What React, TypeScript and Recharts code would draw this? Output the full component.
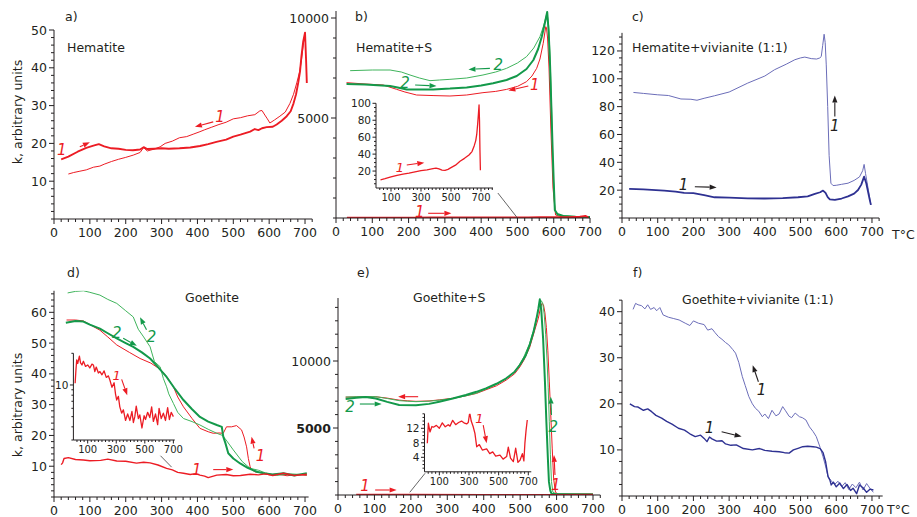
import React from 'react';
import { LineChart, Line, XAxis, YAxis, ReferenceLine, ReferenceDot } from 'recharts';

const W = 917;
const H = 517;
const FONT = '"DejaVu Sans", Verdana, sans-serif';
const AX = '#231f20';
const RED = '#ec1c24';
const GREEN = '#13994a';
const GREEN_L = '#40b45c';
const NAVY = '#2e3192';
const BLUE_L = '#6b6db8';
const BLACK = '#231f20';

// ---------- tick labels ----------
const xLabelsMain = [0, 100, 200, 300, 400, 500, 600, 700];
const xLabelsInset = [100, 300, 500, 700];
const yLabelsA = [10, 20, 30, 40, 50];
const yLabelsB = [5000, 10000];
const yLabelsC = [20, 40, 60, 80, 100, 120];
const yLabelsD = [10, 20, 30, 40, 50, 60];
const yLabelsE = [5000, 10000];
const yLabelsF = [10, 20, 30, 40];
const yLabelsInB = [20, 40, 60, 80, 100];
const yLabelsInD = [10];
const yTicksInD = [3, 4, 5, 6, 7, 8, 9, 10, 20];
const yLabelsInE = [4, 8, 12];

// ---------- a) Hematite ----------
const aHeatT = [20, 40, 66, 90, 110, 125, 140, 160, 180, 200, 220, 240, 250, 260, 280, 300, 320, 350, 380, 407, 430, 453, 480, 500, 520, 547, 560, 570, 580, 593, 610, 621, 635, 649, 660, 668, 675, 681, 686, 690, 695, 700, 703, 705];
const aHeatK = [15.8, 16.5, 17.8, 18.8, 19.4, 19.8, 19.2, 18.7, 18.6, 18.3, 18.2, 18.4, 19.0, 18.5, 18.6, 18.7, 18.6, 18.7, 18.9, 19.3, 19.8, 20.4, 21.0, 21.8, 22.3, 23.1, 23.8, 23.5, 24.0, 24.3, 24.4, 25.0, 26.0, 27.2, 28.5, 30.6, 33.0, 36.0, 39.0, 43.0, 47.0, 49.3, 42, 36];
const aCoolT = [700, 695, 690, 685, 677, 668, 658, 645, 630, 615, 602, 595, 588, 580, 574, 560, 540, 520, 500, 480, 460, 440, 420, 407, 390, 370, 350, 330, 310, 296, 280, 260, 250, 240, 221, 200, 180, 160, 140, 128, 110, 90, 70, 55, 40];
const aCoolK = [49.3, 46, 42, 39, 36, 33, 30.6, 28.3, 27.2, 26.2, 25.4, 26.5, 27.5, 28.7, 28.6, 27.6, 27.3, 26.8, 26.5, 25.6, 25.0, 24.3, 23.6, 23.1, 22.5, 21.8, 21.5, 20.6, 20.0, 19.1, 18.5, 18.0, 18.9, 17.6, 16.9, 16.3, 15.8, 15.2, 14.5, 14.0, 13.7, 13.0, 12.6, 12.3, 11.9];

// ---------- b) Hematite+S ----------
const bInT = [30, 60, 100, 140, 180, 220, 260, 300, 340, 380, 400, 420, 440, 460, 480, 500, 530, 560, 590, 620, 640, 655, 665, 672, 678, 683, 687, 690, 693, 696];
const bInK = [9.7, 11, 13, 15, 16.5, 17.5, 19, 20.5, 21.5, 23, 23.5, 22.5, 21.2, 20.8, 22, 24, 27, 31.5, 35, 39, 43, 50, 56, 64, 76, 88, 98, 80, 45, 21];
const bCool1T = [700, 660, 620, 605, 598, 592, 587, 583, 580, 578, 571, 562, 553, 540, 525, 500, 470, 440, 405, 360, 314, 270, 222, 190, 167, 130, 80, 29];
const bCool1K = [30, 40, 70, 150, 1500, 4500, 7500, 9000, 9500, 9567, 8733, 7950, 7483, 7100, 6817, 6580, 6430, 6330, 6267, 6150, 6100, 6120, 6150, 6300, 6433, 6650, 6700, 6767];
const bHeat2T = [29, 80, 149, 170, 195, 230, 268, 314, 360, 400, 433, 470, 498, 525, 544, 557, 567, 575, 582, 586, 590, 594, 597, 600, 603, 610, 626, 660, 700];
const bHeat2K = [6700, 6680, 6600, 6520, 6430, 6420, 6430, 6470, 6530, 6620, 6733, 6900, 7100, 7450, 7900, 8450, 9067, 9700, 10300, 9300, 7567, 5200, 3400, 1800, 400, 200, 100, 60, 50];
const bCool2T = [700, 650, 610, 603, 598, 594, 590, 586, 582, 580, 572, 562, 545, 525, 500, 470, 440, 405, 360, 314, 285, 259, 230, 204, 180, 149, 100, 39];
const bCool2K = [60, 80, 150, 400, 2500, 5500, 8000, 9600, 10200, 10150, 9600, 9067, 8500, 8067, 7750, 7483, 7300, 7150, 7000, 6933, 6900, 6867, 7000, 7150, 7300, 7400, 7400, 7367];

// ---------- c) Hematite+vivianite ----------
const cHeatT = [20, 60, 118, 150, 174, 200, 230, 259, 300, 352, 400, 450, 493, 520, 540, 555, 563, 570, 576, 582, 596, 615, 633, 650, 661, 670, 678, 684, 688, 693, 697];
const cHeatK = [20.9, 20.5, 19.7, 19.0, 18.0, 17.8, 16.4, 14.9, 14.6, 14.1, 14.0, 14.3, 14.9, 15.5, 17.3, 18.5, 19.7, 18.0, 15.0, 13.4, 13.0, 14.0, 15.5, 17.5, 20.1, 24.0, 29.7, 25, 20, 14, 9.4];
const cCoolT = [697, 690, 682, 678, 674, 665, 650, 633, 615, 600, 591, 585, 580, 576, 572, 569, 566, 562, 558, 554, 545, 530, 512, 500, 484, 460, 427, 400, 352, 300, 259, 230, 210, 193, 165, 130, 100, 60, 32];
const cCoolK = [9.4, 20, 32, 38.5, 34, 29.5, 27, 25, 24.2, 23.5, 23.3, 25, 45, 80, 110, 126, 132, 124, 116, 115, 114.2, 114.5, 115.6, 115, 113.7, 110.5, 106.5, 102, 96.9, 90.5, 87.8, 86, 84.6, 85.3, 85.5, 88, 88.5, 89.5, 90.2];

// ---------- d) Goethite ----------
const dHeat1T = [20, 24, 28, 40, 60, 82, 100, 130, 150, 175, 200, 230, 250, 268, 290, 314, 330, 345, 361, 380, 395, 407, 420, 430, 454, 480, 500, 520, 547, 570, 590, 610, 640, 670, 705];
const dHeat1K = [10.5, 11.1, 12.5, 12.8, 12.2, 12.0, 11.8, 11.9, 12.3, 11.7, 11.6, 11.0, 11.3, 11.1, 10.4, 9.3, 8.8, 8.0, 7.7, 7.3, 7.6, 7.1, 6.8, 6.3, 7.1, 7.3, 6.9, 7.0, 7.4, 7.2, 7.5, 7.0, 7.7, 7.0, 7.4];
const dCool1T = [705, 680, 650, 620, 600, 580, 560, 550, 547, 542, 537, 530, 523, 509, 495, 481, 472, 460, 444, 430, 407, 385, 361, 345, 333, 315, 296, 270, 240, 210, 175, 150, 128, 100, 82, 60, 35];
const dCool1K = [7.0, 7.3, 6.9, 7.5, 7.2, 7.8, 8.2, 9.0, 9.8, 12.5, 16.3, 19.5, 21.8, 23.2, 22.8, 22.8, 20.7, 20.8, 20.7, 21.2, 22.3, 25.5, 29.3, 32.5, 35.8, 39.0, 41.5, 43.5, 45.0, 47.0, 49.4, 52.0, 54.2, 56.0, 57.2, 57.5, 57.5];
const dHeat2T = [33, 60, 82, 100, 128, 150, 175, 200, 221, 245, 268, 290, 314, 335, 361, 385, 407, 430, 454, 468, 472, 478, 486, 500, 519, 540, 565, 590, 610, 640, 670, 705];
const dHeat2K = [56.6, 57.2, 57.0, 56.0, 54.7, 53.2, 51.5, 50.0, 48.8, 47.0, 45.0, 42.2, 39.0, 35.5, 31.5, 28.5, 26.0, 24.5, 23.4, 22.8, 19.6, 17.5, 14.2, 12.5, 10.9, 9.5, 8.2, 7.6, 7.3, 7.7, 7.0, 7.7];
const dCool2T = [705, 660, 620, 590, 570, 547, 525, 500, 480, 470, 454, 430, 407, 385, 361, 345, 333, 320, 314, 305, 296, 280, 268, 250, 235, 221, 200, 175, 150, 128, 100, 82, 60, 38];
const dCool2K = [7.2, 7.5, 7.0, 7.8, 8.7, 9.3, 11.5, 15.3, 18.5, 20.0, 20.7, 22.0, 23.4, 24.5, 25.5, 27.5, 30.4, 33.5, 35.8, 38.5, 42.3, 44.0, 48.8, 52.0, 54.5, 58.5, 60.5, 62.9, 64.2, 65.6, 66.5, 67.0, 66.8, 66.3];
const dInT = [12, 18, 23, 30, 42, 50, 60, 70, 85, 100, 115, 130, 140, 150, 160, 175, 186, 200, 215, 230, 245, 256, 270, 285, 295, 303, 315, 325, 338, 350, 365, 380, 396, 410, 420, 430, 440, 455, 465, 480, 495, 505, 520, 535, 548, 560, 575, 590, 600, 615, 630, 645, 660, 672, 685, 700];
const dInK = [10.4, 14, 17.3, 16, 18.8, 16.2, 15.5, 16.8, 15.0, 15.5, 14.5, 15.8, 15.5, 13.4, 14.8, 13.0, 13.4, 12.5, 13.6, 11.8, 12.2, 11.1, 9.5, 10.5, 8.2, 7.2, 7.8, 6.2, 5.4, 5.8, 4.6, 5.3, 4.6, 5.6, 4.4, 5.0, 6.3, 4.8, 5.2, 3.9, 5.1, 4.7, 5.5, 4.9, 6.2, 4.5, 5.3, 4.2, 6.0, 4.8, 5.4, 4.6, 6.1, 4.7, 5.5, 5.0];

// ---------- e) Goethite+S ----------
const eInT = [19, 26, 37, 50, 60, 80, 100, 120, 140, 160, 172, 190, 210, 230, 250, 270, 284, 295, 305, 315, 328, 340, 352, 370, 390, 419, 440, 460, 480, 509, 530, 554, 565, 580, 599, 615, 630, 644, 660, 670, 677, 685, 693];
const eInK = [7.9, 13.4, 11, 12.5, 12.3, 12.8, 12.0, 13.5, 12.4, 13.0, 12.6, 14.2, 13.0, 13.6, 14.0, 13.4, 13.2, 13.6, 16.3, 14.0, 12.5, 10.6, 6.9, 7.5, 6.0, 6.3, 5.0, 5.5, 4.3, 4.6, 3.5, 4.2, 6.8, 3.8, 2.8, 6.5, 2.6, 3.2, 5.0, 3.0, 7.9, 11.5, 14.3];
const eMainHeat1T = [50, 200, 400, 600, 700];
const eMainHeat1K = [12, 13, 6, 3, 14];
const eHeat2T = [21, 50, 76, 104, 135, 168, 214, 250, 278, 315, 351, 380, 406, 435, 462, 485, 499, 515, 526, 537, 545, 550, 554, 558, 563, 568, 572, 576, 579, 583, 586, 600, 650, 700];
const eHeat2K = [7164, 7250, 7313, 7200, 6950, 6716, 6700, 6800, 6965, 7200, 7463, 7700, 7960, 8300, 8706, 9200, 9701, 10400, 11194, 12200, 13184, 13900, 14600, 13800, 11692, 8500, 5473, 2800, 995, 300, 100, 50, 50, 50];
const eCool2T = [700, 650, 600, 590, 586, 583, 580, 577, 574, 570, 566, 562, 558, 554, 548, 540, 526, 510, 499, 485, 462, 435, 406, 380, 351, 315, 278, 250, 214, 190, 168, 135, 104, 76, 50, 21];
const eCool2K = [50, 60, 80, 200, 1000, 3000, 5500, 8000, 10000, 12000, 13500, 14300, 14500, 14300, 13500, 12600, 11300, 10300, 9750, 9200, 8700, 8250, 7900, 7600, 7400, 7200, 7080, 7000, 6965, 7000, 7040, 7200, 7338, 7340, 7330, 7313];
const eCool1T = [700, 650, 605, 597, 592, 588, 584, 580, 576, 572, 568, 564, 560, 556, 550, 540, 526, 510, 499, 485, 462, 435, 406, 380, 351, 315, 278, 250, 214, 190, 168, 135, 104, 76, 50, 21];
const eCool1K = [40, 50, 70, 200, 1200, 3500, 6000, 8500, 10800, 12500, 13600, 14200, 14300, 14000, 13200, 12300, 11000, 10050, 9550, 9050, 8580, 8150, 7850, 7580, 7400, 7220, 7100, 7020, 6990, 7030, 7080, 7230, 7330, 7330, 7320, 7300];

// ---------- f) Goethite+vivianite ----------
const fHeatT = [22, 35, 45, 60, 72, 83, 95, 111, 125, 140, 158, 175, 190, 205, 220, 230, 238, 245, 252, 265, 280, 290, 305, 320, 340, 365, 385, 400, 420, 440, 455, 468, 480, 495, 506, 520, 535, 544, 555, 563, 570, 577, 582, 586, 592, 600, 610, 620, 630, 640, 647, 657, 665, 675, 685, 695, 704];
const fHeatK = [20, 19.4, 19.3, 18.6, 18.9, 18.3, 17.5, 16.9, 16.2, 15.6, 14.7, 14.3, 13.5, 12.9, 13.2, 12.5, 11.8, 12.8, 12.4, 11.9, 12.0, 11.3, 11.0, 11.1, 10.3, 10.0, 10.3, 9.9, 9.7, 9.6, 9.4, 9.3, 10.0, 10.4, 10.7, 10.8, 10.7, 10.6, 10.3, 9.4, 7.5, 4.2, 3.5, 2.4, 3.0, 2.0, 2.8, 1.6, 2.5, 1.2, 1.7, 0.5, 2.4, 1.8, 0.8, 1.5, 1.3];
const fCoolT = [704, 695, 685, 675, 665, 655, 645, 635, 625, 615, 605, 595, 591, 584, 577, 570, 563, 555, 544, 535, 525, 515, 505, 497, 485, 475, 468, 458, 450, 440, 431, 420, 410, 400, 393, 383, 374, 365, 355, 345, 337, 327, 318, 310, 299, 290, 280, 270, 260, 252, 240, 230, 214, 200, 190, 177, 160, 145, 130, 115, 106, 97, 90, 80, 72, 64, 55, 45, 38, 31];
const fCoolK = [0.8, 1.6, 2.7, 1.3, 3.0, 1.8, 2.6, 1.4, 2.9, 2.0, 3.2, 2.5, 2.8, 3.5, 4.2, 6.5, 8.5, 10.5, 12.9, 14.0, 15.0, 16.5, 17.0, 17.2, 18.0, 17.0, 17.3, 18.5, 19.4, 17.8, 17.4, 18.6, 16.8, 17.8, 17.2, 18.4, 19.0, 20.0, 21.6, 24.0, 25.9, 29.0, 31.0, 31.8, 32.8, 33.3, 34.0, 34.6, 35.5, 36.3, 36.0, 37.2, 37.5, 38.0, 37.0, 37.5, 38.2, 38.5, 38.8, 39.3, 40.9, 40.2, 40.9, 40.5, 41.5, 40.6, 41.3, 41.5, 41.8, 40.5];

// ---------- helpers ----------
type Pt = { t: number; k: number };
const zip = (t: number[], k: number[]): Pt[] => t.map((v, i) => ({ t: v, k: k[i] }));
const steps = (a: number, b: number, s: number) => {
  const out: number[] = [];
  for (let v = a; v <= b + 1e-9; v += s) out.push(Math.round(v * 1000) / 1000);
  return out;
};

type Note =
  | { type: 'text'; t: number; k: number; s: string; color: string; size?: number }
  | { type: 'arrow'; t1: number; k1: number; t2: number; k2: number; color: string }
  | { type: 'seg'; t1: number; k1: number; t2: number; k2: number; color: string };

interface Cfg {
  box: { x0: number; x1: number; yTop: number; yBottom: number };
  xDomain: [number, number];
  yDomain: [number, number];
  xTicks: number[];
  xLabels: number[];
  yTicks: number[];
  yLabels: number[];
  yBold?: number[];
  log?: boolean;
  fs: number;
  yfs: number;
  xOff: number;
  yGap: number;
  major: number;
  minor: number;
  series: { data: Pt[]; color: string; width: number }[];
  notes: Note[];
}

const arrowShape = (color: string) => (p: any) => {
  const { x1, y1, x2, y2 } = p;
  const dx = x2 - x1;
  const dy = y2 - y1;
  const len = Math.hypot(dx, dy) || 1;
  const ux = dx / len;
  const uy = dy / len;
  const hl = 7;
  const hw = 2.6;
  const bx = x2 - ux * hl;
  const by = y2 - uy * hl;
  const px = -uy;
  const py = ux;
  return (
    <g>
      <line x1={x1} y1={y1} x2={bx} y2={by} stroke={color} strokeWidth={1.1} />
      <polygon points={`${x2},${y2} ${bx + px * hw},${by + py * hw} ${bx - px * hw},${by - py * hw}`} fill={color} />
    </g>
  );
};

function renderNote(n: Note, i: number) {
  if (n.type === 'text') {
    return (
      <ReferenceDot
        key={'n' + i}
        x={n.t}
        y={n.k}
        r={1}
        ifOverflow="visible"
        shape={(p: any) => (
          <text x={p.cx} y={p.cy} textAnchor="middle" dominantBaseline="central" fontStyle="italic" fontSize={n.size || 15} fill={n.color} fontFamily={FONT}>
            {n.s}
          </text>
        )}
      />
    );
  }
  if (n.type === 'arrow') {
    return (
      <ReferenceLine
        key={'n' + i}
        ifOverflow="visible"
        segment={[{ x: n.t1, y: n.k1 }, { x: n.t2, y: n.k2 }]}
        shape={arrowShape(n.color)}
      />
    );
  }
  return (
    <ReferenceLine
      key={'n' + i}
      ifOverflow="visible"
      segment={[{ x: n.t1, y: n.k1 }, { x: n.t2, y: n.k2 }]}
      stroke={n.color}
      strokeWidth={0.9}
    />
  );
}

function Panel({ cfg }: { cfg: Cfg }) {
  const { box } = cfg;
  const xTick = (p: any) => {
    const v = p.payload.value;
    const isMajor = cfg.xLabels.includes(v);
    return (
      <g>
        <line x1={p.x} y1={p.y} x2={p.x} y2={p.y + (isMajor ? cfg.major : cfg.minor)} stroke={AX} strokeWidth={1} />
        {isMajor && (
          <text x={p.x} y={p.y + cfg.xOff} textAnchor="middle" fontSize={cfg.fs} fill={AX} fontFamily={FONT}>
            {v}
          </text>
        )}
      </g>
    );
  };
  const yTick = (p: any) => {
    const v = p.payload.value;
    const isMajor = cfg.yLabels.includes(v);
    const bold = cfg.yBold ? cfg.yBold.includes(v) : false;
    return (
      <g>
        <line x1={p.x} y1={p.y} x2={p.x - (isMajor ? cfg.major : cfg.minor)} y2={p.y} stroke={AX} strokeWidth={1} />
        {isMajor && (
          <text x={p.x - cfg.yGap} y={p.y} dy="0.36em" textAnchor="end" fontSize={cfg.yfs} fontWeight={bold ? 'bold' : 'normal'} fill={AX} fontFamily={FONT}>
            {v}
          </text>
        )}
      </g>
    );
  };
  return (
    <div style={{ position: 'absolute', left: 0, top: 0, width: W, height: H }}>
      <LineChart
        width={W}
        height={H}
        margin={{ left: box.x0 - 1, right: W - box.x1, top: box.yTop, bottom: H - box.yBottom - 1 }}
      >
        <XAxis
          type="number"
          dataKey="t"
          domain={cfg.xDomain}
          allowDataOverflow
          ticks={cfg.xTicks}
          interval={0}
          height={1}
          tickSize={0}
          tickMargin={0}
          tickLine={false}
          axisLine={{ stroke: AX, strokeWidth: 1 }}
          tick={xTick}
        />
        <YAxis
          type="number"
          dataKey="k"
          scale={cfg.log ? 'log' : 'linear'}
          domain={cfg.yDomain}
          allowDataOverflow
          ticks={cfg.yTicks}
          interval={0}
          width={1}
          tickSize={0}
          tickMargin={0}
          tickLine={false}
          axisLine={{ stroke: AX, strokeWidth: 1 }}
          tick={yTick}
        />
        {cfg.series.map((s, i) => (
          <Line
            key={i}
            data={s.data}
            dataKey="k"
            type="linear"
            stroke={s.color}
            strokeWidth={s.width}
            dot={false}
            activeDot={false}
            isAnimationActive={false}
            strokeLinejoin="round"
          />
        ))}
        {cfg.notes.map(renderNote)}
      </LineChart>
    </div>
  );
}

const mainStyle = { fs: 12.5, yfs: 12.5, xOff: 18, yGap: 7, major: 5, minor: 3 };
const insetStyle = { fs: 10, yfs: 10.5, xOff: 13, yGap: 5, major: 3.5, minor: 2 };

const panels: Cfg[] = [
  // a
  {
    ...mainStyle,
    box: { x0: 54, x1: 54 + 720 * 0.3586, yTop: 30, yBottom: 219 },
    xDomain: [0, 720],
    yDomain: [0, 50],
    xTicks: steps(0, 720, 20),
    xLabels: xLabelsMain,
    yTicks: steps(0, 50, 2),
    yLabels: yLabelsA,
    series: [
      { data: zip(aCoolT, aCoolK), color: RED, width: 1 },
      { data: zip(aHeatT, aHeatK), color: RED, width: 1.9 },
    ],
    notes: [
      { type: 'text', t: 22, k: 18.3, s: '1', color: RED },
      { type: 'arrow', t1: 72, k1: 19.1, t2: 100, k2: 20.3, color: RED },
      { type: 'text', t: 463, k: 27.1, s: '1', color: RED },
      { type: 'arrow', t1: 444, k1: 25.7, t2: 393, k2: 24.4, color: RED },
    ],
  },
  // b
  {
    ...mainStyle,
    box: { x0: 336, x1: 336 + 700 * 0.3629, yTop: 218 - 10350 * 0.02, yBottom: 218 },
    xDomain: [0, 700],
    yDomain: [0, 10350],
    xTicks: steps(0, 700, 20),
    xLabels: xLabelsMain,
    yTicks: steps(0, 10000, 1000),
    yLabels: yLabelsB,
    series: [
      { data: zip(bCool1T, bCool1K), color: RED, width: 1 },
      { data: zip(bCool2T, bCool2K), color: GREEN_L, width: 1 },
      { data: zip(bHeat2T, bHeat2K), color: GREEN, width: 2 },
      { data: zip(bInT, bInK), color: RED, width: 2 },
    ],
    notes: [
      { type: 'text', t: 447, k: 7650, s: '2', color: GREEN },
      { type: 'arrow', t1: 424, k1: 7480, t2: 365, k2: 7430, color: GREEN },
      { type: 'text', t: 190, k: 6730, s: '2', color: GREEN },
      { type: 'arrow', t1: 218, k1: 6650, t2: 277, k2: 6600, color: GREEN },
      { type: 'text', t: 548, k: 6650, s: '1', color: RED },
      { type: 'arrow', t1: 530, k1: 6600, t2: 475, k2: 6370, color: RED },
      { type: 'text', t: 231, k: 320, s: '1', color: RED },
      { type: 'arrow', t1: 254, k1: 235, t2: 318, k2: 235, color: RED },
      { type: 'seg', t1: 446, k1: 1250, t2: 500, k2: 0, color: '#555' },
    ],
  },
  // b inset
  {
    ...insetStyle,
    box: { x0: 376, x1: 376 + 780 * 0.15, yTop: 188 - 100 * 0.847, yBottom: 188 },
    xDomain: [0, 780],
    yDomain: [0, 100],
    xTicks: steps(25, 775, 25),
    xLabels: xLabelsInset,
    yTicks: steps(5, 100, 5),
    yLabels: yLabelsInB,
    series: [{ data: zip(bInT, bInK), color: RED, width: 1.3 }],
    notes: [
      { type: 'text', t: 160, k: 24.4, s: '1', color: RED, size: 13 },
      { type: 'arrow', t1: 205, k1: 27.2, t2: 322, k2: 29.9, color: RED },
    ],
  },
  // c
  {
    ...mainStyle,
    box: { x0: 622, x1: 622 + 720 * 0.3571, yTop: 218 - 133 * 1.392, yBottom: 218 },
    xDomain: [0, 720],
    yDomain: [0, 133],
    xTicks: steps(0, 720, 20),
    xLabels: xLabelsMain,
    yTicks: steps(0, 130, 5),
    yLabels: yLabelsC,
    series: [
      { data: zip(cCoolT, cCoolK), color: BLUE_L, width: 1 },
      { data: zip(cHeatT, cHeatK), color: NAVY, width: 1.8 },
    ],
    notes: [
      { type: 'text', t: 172, k: 23.7, s: '1', color: BLACK },
      { type: 'arrow', t1: 204, k1: 22.5, t2: 265, k2: 22, color: BLACK },
      { type: 'text', t: 596, k: 66, s: '1', color: BLACK },
      { type: 'arrow', t1: 596, k1: 73, t2: 596, k2: 88, color: BLACK },
    ],
  },
  // d
  {
    ...mainStyle,
    box: { x0: 54, x1: 54 + 710 * 0.3586, yTop: 497 - 67 * 3.078, yBottom: 497 },
    xDomain: [0, 710],
    yDomain: [0, 67],
    xTicks: steps(0, 700, 20),
    xLabels: xLabelsMain,
    yTicks: steps(0, 66, 2),
    yLabels: yLabelsD,
    series: [
      { data: zip(dCool1T, dCool1K), color: RED, width: 1 },
      { data: zip(dCool2T, dCool2K), color: GREEN_L, width: 1 },
      { data: zip(dHeat2T, dHeat2K), color: GREEN, width: 2 },
      { data: zip(dHeat1T, dHeat1K), color: RED, width: 1.4 },
    ],
    notes: [
      { type: 'text', t: 175, k: 53.2, s: '2', color: GREEN },
      { type: 'arrow', t1: 193, k1: 51.6, t2: 231, k2: 49.1, color: GREEN },
      { type: 'text', t: 272, k: 52.1, s: '2', color: GREEN },
      { type: 'arrow', t1: 258, k1: 54.3, t2: 240, k2: 58.4, color: GREEN },
      { type: 'text', t: 398, k: 8.8, s: '1', color: RED },
      { type: 'arrow', t1: 444, k1: 8.9, t2: 500, k2: 8.9, color: RED },
      { type: 'text', t: 576, k: 13.3, s: '1', color: RED },
      { type: 'arrow', t1: 558, k1: 15.8, t2: 551, k2: 19.6, color: RED },
      { type: 'seg', t1: 297, k1: 13.4, t2: 328, k2: 9.7, color: '#555' },
    ],
  },
  // d inset (log)
  {
    ...insetStyle,
    box: { x0: 73.4, x1: 73.4 + 710 * 0.1428, yTop: 353.3, yBottom: 440 },
    xDomain: [0, 710],
    yDomain: [3, 20],
    log: true,
    xTicks: steps(25, 700, 25),
    xLabels: xLabelsInset,
    yTicks: yTicksInD,
    yLabels: yLabelsInD,
    series: [{ data: zip(dInT, dInK), color: RED, width: 1.3 }],
    notes: [
      { type: 'text', t: 303, k: 12.4, s: '1', color: RED, size: 13 },
      { type: 'arrow', t1: 338, k1: 11.3, t2: 377, k2: 8.0, color: RED },
    ],
  },
  // e
  {
    ...mainStyle,
    box: { x0: 338, x1: 338 + 720 * 0.3643, yTop: 495 - 14700 * 0.0134, yBottom: 495 },
    xDomain: [0, 720],
    yDomain: [0, 14700],
    xTicks: steps(0, 720, 20),
    xLabels: xLabelsMain,
    yTicks: steps(0, 14000, 1000),
    yLabels: yLabelsE,
    yBold: [5000],
    series: [
      { data: zip(eCool1T, eCool1K), color: RED, width: 1 },
      { data: zip(eCool2T, eCool2K), color: GREEN_L, width: 1 },
      { data: zip(eHeat2T, eHeat2K), color: GREEN, width: 2 },
      { data: zip(eMainHeat1T, eMainHeat1K), color: RED, width: 2 },
    ],
    notes: [
      { type: 'arrow', t1: 220, k1: 7336, t2: 165, k2: 7336, color: RED },
      { type: 'text', t: 33, k: 6590, s: '2', color: GREEN },
      { type: 'arrow', t1: 60, k1: 6790, t2: 120, k2: 6790, color: GREEN },
      { type: 'text', t: 74, k: 694, s: '1', color: RED },
      { type: 'arrow', t1: 102, k1: 373, t2: 161, k2: 373, color: RED },
      { type: 'text', t: 591, k: 5100, s: '2', color: GREEN },
      { type: 'arrow', t1: 586, k1: 5970, t2: 584, k2: 7336, color: GREEN },
      { type: 'text', t: 598, k: 746, s: '1', color: RED },
      { type: 'arrow', t1: 595.6, k1: 1493, t2: 593, k2: 2985, color: RED },
      { type: 'seg', t1: 197, k1: 200, t2: 239, k2: 1620, color: '#555' },
    ],
  },
  // e inset
  {
    ...insetStyle,
    box: { x0: 424.5, x1: 424.5 + 720 * 0.1483, yTop: 471.8 - 16 * 3.625, yBottom: 471.8 },
    xDomain: [0, 720],
    yDomain: [0, 16],
    xTicks: steps(25, 700, 25),
    xLabels: xLabelsInset,
    yTicks: steps(1, 16, 1),
    yLabels: yLabelsInE,
    series: [{ data: zip(eInT, eInK), color: RED, width: 1.3 }],
    notes: [
      { type: 'text', t: 370, k: 14.8, s: '1', color: RED, size: 13 },
      { type: 'arrow', t1: 396, k1: 12.9, t2: 419, k2: 7.9, color: RED },
    ],
  },
  // f
  {
    ...mainStyle,
    box: { x0: 622, x1: 622 + 730 * 0.3571, yTop: 496 - 42.5 * 4.608, yBottom: 496 },
    xDomain: [0, 730],
    yDomain: [0, 42.5],
    xTicks: steps(0, 720, 20),
    xLabels: xLabelsMain,
    yTicks: steps(0, 42.5, 2.5),
    yLabels: yLabelsF,
    series: [
      { data: zip(fCoolT, fCoolK), color: BLUE_L, width: 1 },
      { data: zip(fHeatT, fHeatK), color: NAVY, width: 1.4 },
    ],
    notes: [
      { type: 'text', t: 245, k: 14.7, s: '1', color: BLACK },
      { type: 'arrow', t1: 279, k1: 13.95, t2: 335, k2: 12.9, color: BLACK },
      { type: 'text', t: 391, k: 23, s: '1', color: BLACK },
      { type: 'arrow', t1: 382, k1: 24.8, t2: 366, k2: 28.4, color: BLACK },
    ],
  },
];

const texts = [
  { x: 65, y: 21, s: 'a)' },
  { x: 67, y: 52, s: 'Hematite' },
  { x: 355, y: 21, s: 'b)' },
  { x: 356, y: 52, s: 'Hematite+S' },
  { x: 632, y: 21, s: 'c)' },
  { x: 632, y: 52, s: 'Hematite+vivianite (1:1)' },
  { x: 892, y: 239, s: 'T°C' },
  { x: 67, y: 277, s: 'd)' },
  { x: 185, y: 302, s: 'Goethite' },
  { x: 357, y: 277, s: 'e)' },
  { x: 413, y: 302, s: 'Goethite+S' },
  { x: 633, y: 277, s: 'f)' },
  { x: 682, y: 304, s: 'Goethite+vivianite (1:1)' },
  { x: 887, y: 514, s: 'T°C' },
];

export default function App() {
  return (
    <div style={{ position: 'absolute', left: 0, top: 0, width: W, height: H, background: '#fff', overflow: 'hidden', fontFamily: FONT }}>
      {panels.map((cfg, i) => (
        <Panel key={i} cfg={cfg} />
      ))}
      <svg width={W} height={H} style={{ position: 'absolute', left: 0, top: 0, pointerEvents: 'none' }}>
        {texts.map((t, i) => (
          <text key={i} x={t.x} y={t.y} fontSize={12.5} fill={AX} fontFamily={FONT}>
            {t.s}
          </text>
        ))}
        <text x={0} y={0} fontSize={12.5} fill={AX} fontFamily={FONT} textAnchor="middle" transform="translate(22,112) rotate(-90)">
          k, arbitrary units
        </text>
        <text x={0} y={0} fontSize={12.5} fill={AX} fontFamily={FONT} textAnchor="middle" transform="translate(22,405) rotate(-90)">
          k, arbitrary units
        </text>
      </svg>
    </div>
  );
}
